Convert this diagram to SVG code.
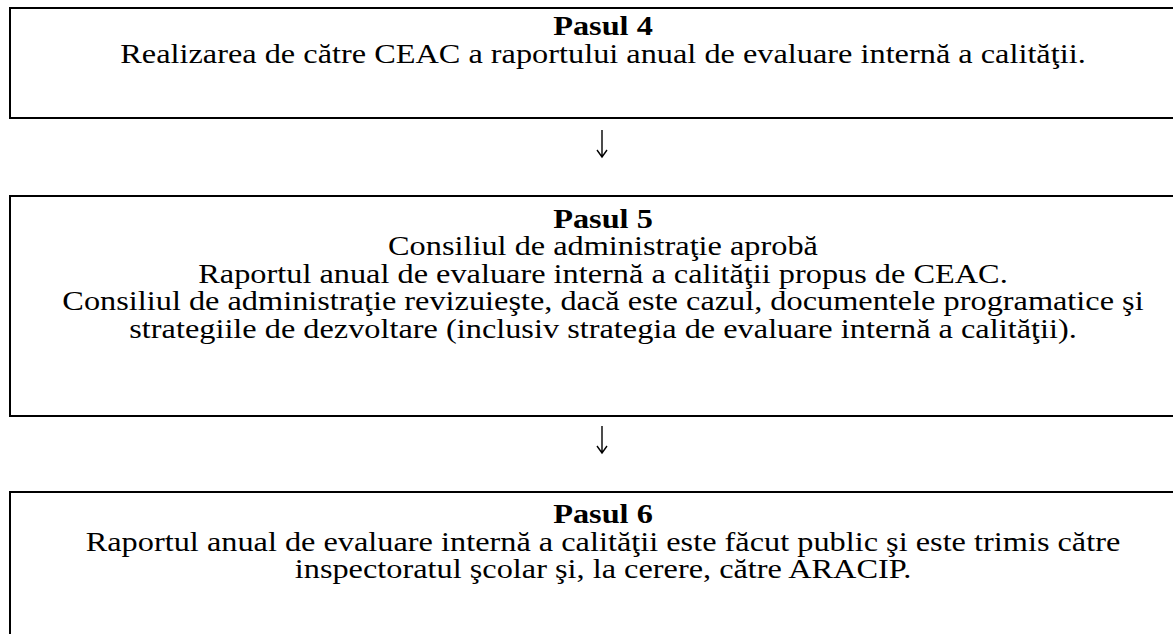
<svg xmlns="http://www.w3.org/2000/svg" width="1173" height="634" viewBox="0 0 1173 634">
<style>
.box{fill:#fff;stroke:#000;stroke-width:2}
.t{font-family:"Liberation Serif","Times New Roman",serif;font-size:26.5px;fill:#000;text-anchor:middle}
.b{font-weight:bold}
.conn{fill:none;stroke:#000;stroke-width:1.4}
</style>
<rect width="1173" height="634" fill="#fff"/>
<g id="step4">
<rect class="box" x="10" y="8" width="1200" height="110"/>
<g transform="translate(603,0) scale(1.22,1)">
<text class="t b" x="0" y="35.5">Pasul 4</text>
<text class="t" x="0" y="63.5">Realizarea de către CEAC a raportului anual de evaluare internă a calităţii.</text>
</g>
</g>
<g id="step5">
<rect class="box" x="10" y="196" width="1200" height="220"/>
<g transform="translate(603,0) scale(1.22,1)">
<text class="t b" x="0" y="228">Pasul 5</text>
<text class="t" x="0" y="255.5">Consiliul de administraţie aprobă</text>
<text class="t" x="0" y="283">Raportul anual de evaluare internă a calităţii propus de CEAC.</text>
<text class="t" x="0" y="310.5">Consiliul de administraţie revizuieşte, dacă este cazul, documentele programatice şi</text>
<text class="t" x="0" y="338">strategiile de dezvoltare (inclusiv strategia de evaluare internă a calităţii).</text>
</g>
</g>
<g id="step6">
<rect class="box" x="10" y="492" width="1200" height="220"/>
<g transform="translate(603,0) scale(1.22,1)">
<text class="t b" x="0" y="523.5">Pasul 6</text>
<text class="t" x="0" y="551">Raportul anual de evaluare internă a calităţii este făcut public şi este trimis către</text>
<text class="t" x="0" y="578.5">inspectoratul şcolar şi, la cerere, către ARACIP.</text>
</g>
</g>
<g id="connectors">
<path class="conn" d="M602 130V157M597 150L602 157L607 150"/>
<path class="conn" d="M602 426V453M597 446L602 453L607 446"/>
</g>
</svg>
